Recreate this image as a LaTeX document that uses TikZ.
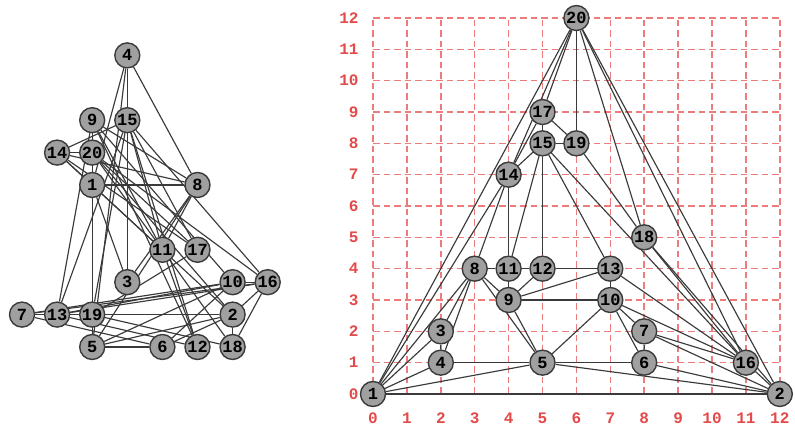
\documentclass[tikz,border=0pt]{standalone}
\usepackage{fontspec}
\setmonofont{Liberation Mono}
\usetikzlibrary{backgrounds}
\definecolor{GridRed}{HTML}{EC7C7C}
\definecolor{AxisRed}{HTML}{E34A4A}
\definecolor{VertexGray}{HTML}{A0A0A0}
\definecolor{EdgeGray}{HTML}{3A3A3A}
\tikzset{
  vtx/.style={circle, draw=EdgeGray, fill=VertexGray, line width=1.4pt, minimum size=25pt,
              inner sep=0pt, font=\ttfamily\bfseries\fontsize{17}{17}\selectfont},
  link/.style={draw=EdgeGray, line width=1.15pt},
  gridline/.style={draw=GridRed, line width=1.5pt, dash pattern=on 6.5pt off 4pt},
  axisnum/.style={text=AxisRed, inner sep=0pt, font=\ttfamily\bfseries\fontsize{16}{16}\selectfont},
}
% the same edges for both drawings
\def\graphedges{1/2,1/20,2/20,1/14,1/8,1/3,1/4,1/5,3/4,3/8,4/8,4/5,5/8,
  8/14,8/11,8/9,11/14,14/15,14/17,14/20,17/20,15/17,17/19,19/20,15/19,18/19,
  11/15,12/15,13/15,15/16,11/12,9/11,9/12,12/13,9/13,9/10,5/9,10/13,13/16,
  5/10,6/10,7/10,10/16,5/6,2/5,2/6,6/7,7/16,2/7,18/20,16/18,2/18,16/20,2/16}

\begin{document}
\begin{tikzpicture}[x=1pt,y=1pt]
  \useasboundingbox (0,0) rectangle (795,430);

  % left: free layout
  \begin{scope}[shift={(22pt,83pt)},x=35.1pt,y=32.4pt]
    \node[vtx] (l1) at (2,5) {1};
    \node[vtx] (l2) at (6,1) {2};
    \node[vtx] (l3) at (3,2) {3};
    \node[vtx] (l4) at (3,9) {4};
    \node[vtx] (l5) at (2,0) {5};
    \node[vtx] (l6) at (4,0) {6};
    \node[vtx] (l7) at (0,1) {7};
    \node[vtx] (l8) at (5,5) {8};
    \node[vtx] (l9) at (2,7) {9};
    \node[vtx] (l10) at (6,2) {10};
    \node[vtx] (l11) at (4,3) {11};
    \node[vtx] (l12) at (5,0) {12};
    \node[vtx] (l13) at (1,1) {13};
    \node[vtx] (l14) at (1,6) {14};
    \node[vtx] (l15) at (3,7) {15};
    \node[vtx] (l16) at (7,2) {16};
    \node[vtx] (l17) at (5,3) {17};
    \node[vtx] (l18) at (6,0) {18};
    \node[vtx] (l19) at (2,1) {19};
    \node[vtx] (l20) at (2,6) {20};
  \end{scope}

  % right: grid drawing
  \begin{scope}[shift={(373pt,36pt)},x=33.9pt,y=31.33pt]
    \begin{scope}[on background layer]
      \foreach \i in {0,...,12} {
        \draw[gridline] (\i,0) -- (\i,12);
        \draw[gridline] (0,\i) -- (12,\i);
        \node[axisnum] (xn\i) at (\i,-0.77) {\i};
        \node[axisnum,anchor=east] (yn\i) at (-0.42,\i) {\i};
      }
    \end{scope}
    \node[vtx] (r1) at (0,0) {1};
    \node[vtx] (r2) at (12,0) {2};
    \node[vtx] (r3) at (2,2) {3};
    \node[vtx] (r4) at (2,1) {4};
    \node[vtx] (r5) at (5,1) {5};
    \node[vtx] (r6) at (8,1) {6};
    \node[vtx] (r7) at (8,2) {7};
    \node[vtx] (r8) at (3,4) {8};
    \node[vtx] (r9) at (4,3) {9};
    \node[vtx] (r10) at (7,3) {10};
    \node[vtx] (r11) at (4,4) {11};
    \node[vtx] (r12) at (5,4) {12};
    \node[vtx] (r13) at (7,4) {13};
    \node[vtx] (r14) at (4,7) {14};
    \node[vtx] (r15) at (5,8) {15};
    \node[vtx] (r16) at (11,1) {16};
    \node[vtx] (r17) at (5,9) {17};
    \node[vtx] (r18) at (8,5) {18};
    \node[vtx] (r19) at (6,8) {19};
    \node[vtx] (r20) at (6,12) {20};
  \end{scope}

  \begin{scope}[on background layer]
    \foreach \u/\v in \graphedges {
      \draw[link] (l\u) -- (l\v);
      \draw[link] (r\u) -- (r\v);
    }
  \end{scope}
\end{tikzpicture}
\end{document}
